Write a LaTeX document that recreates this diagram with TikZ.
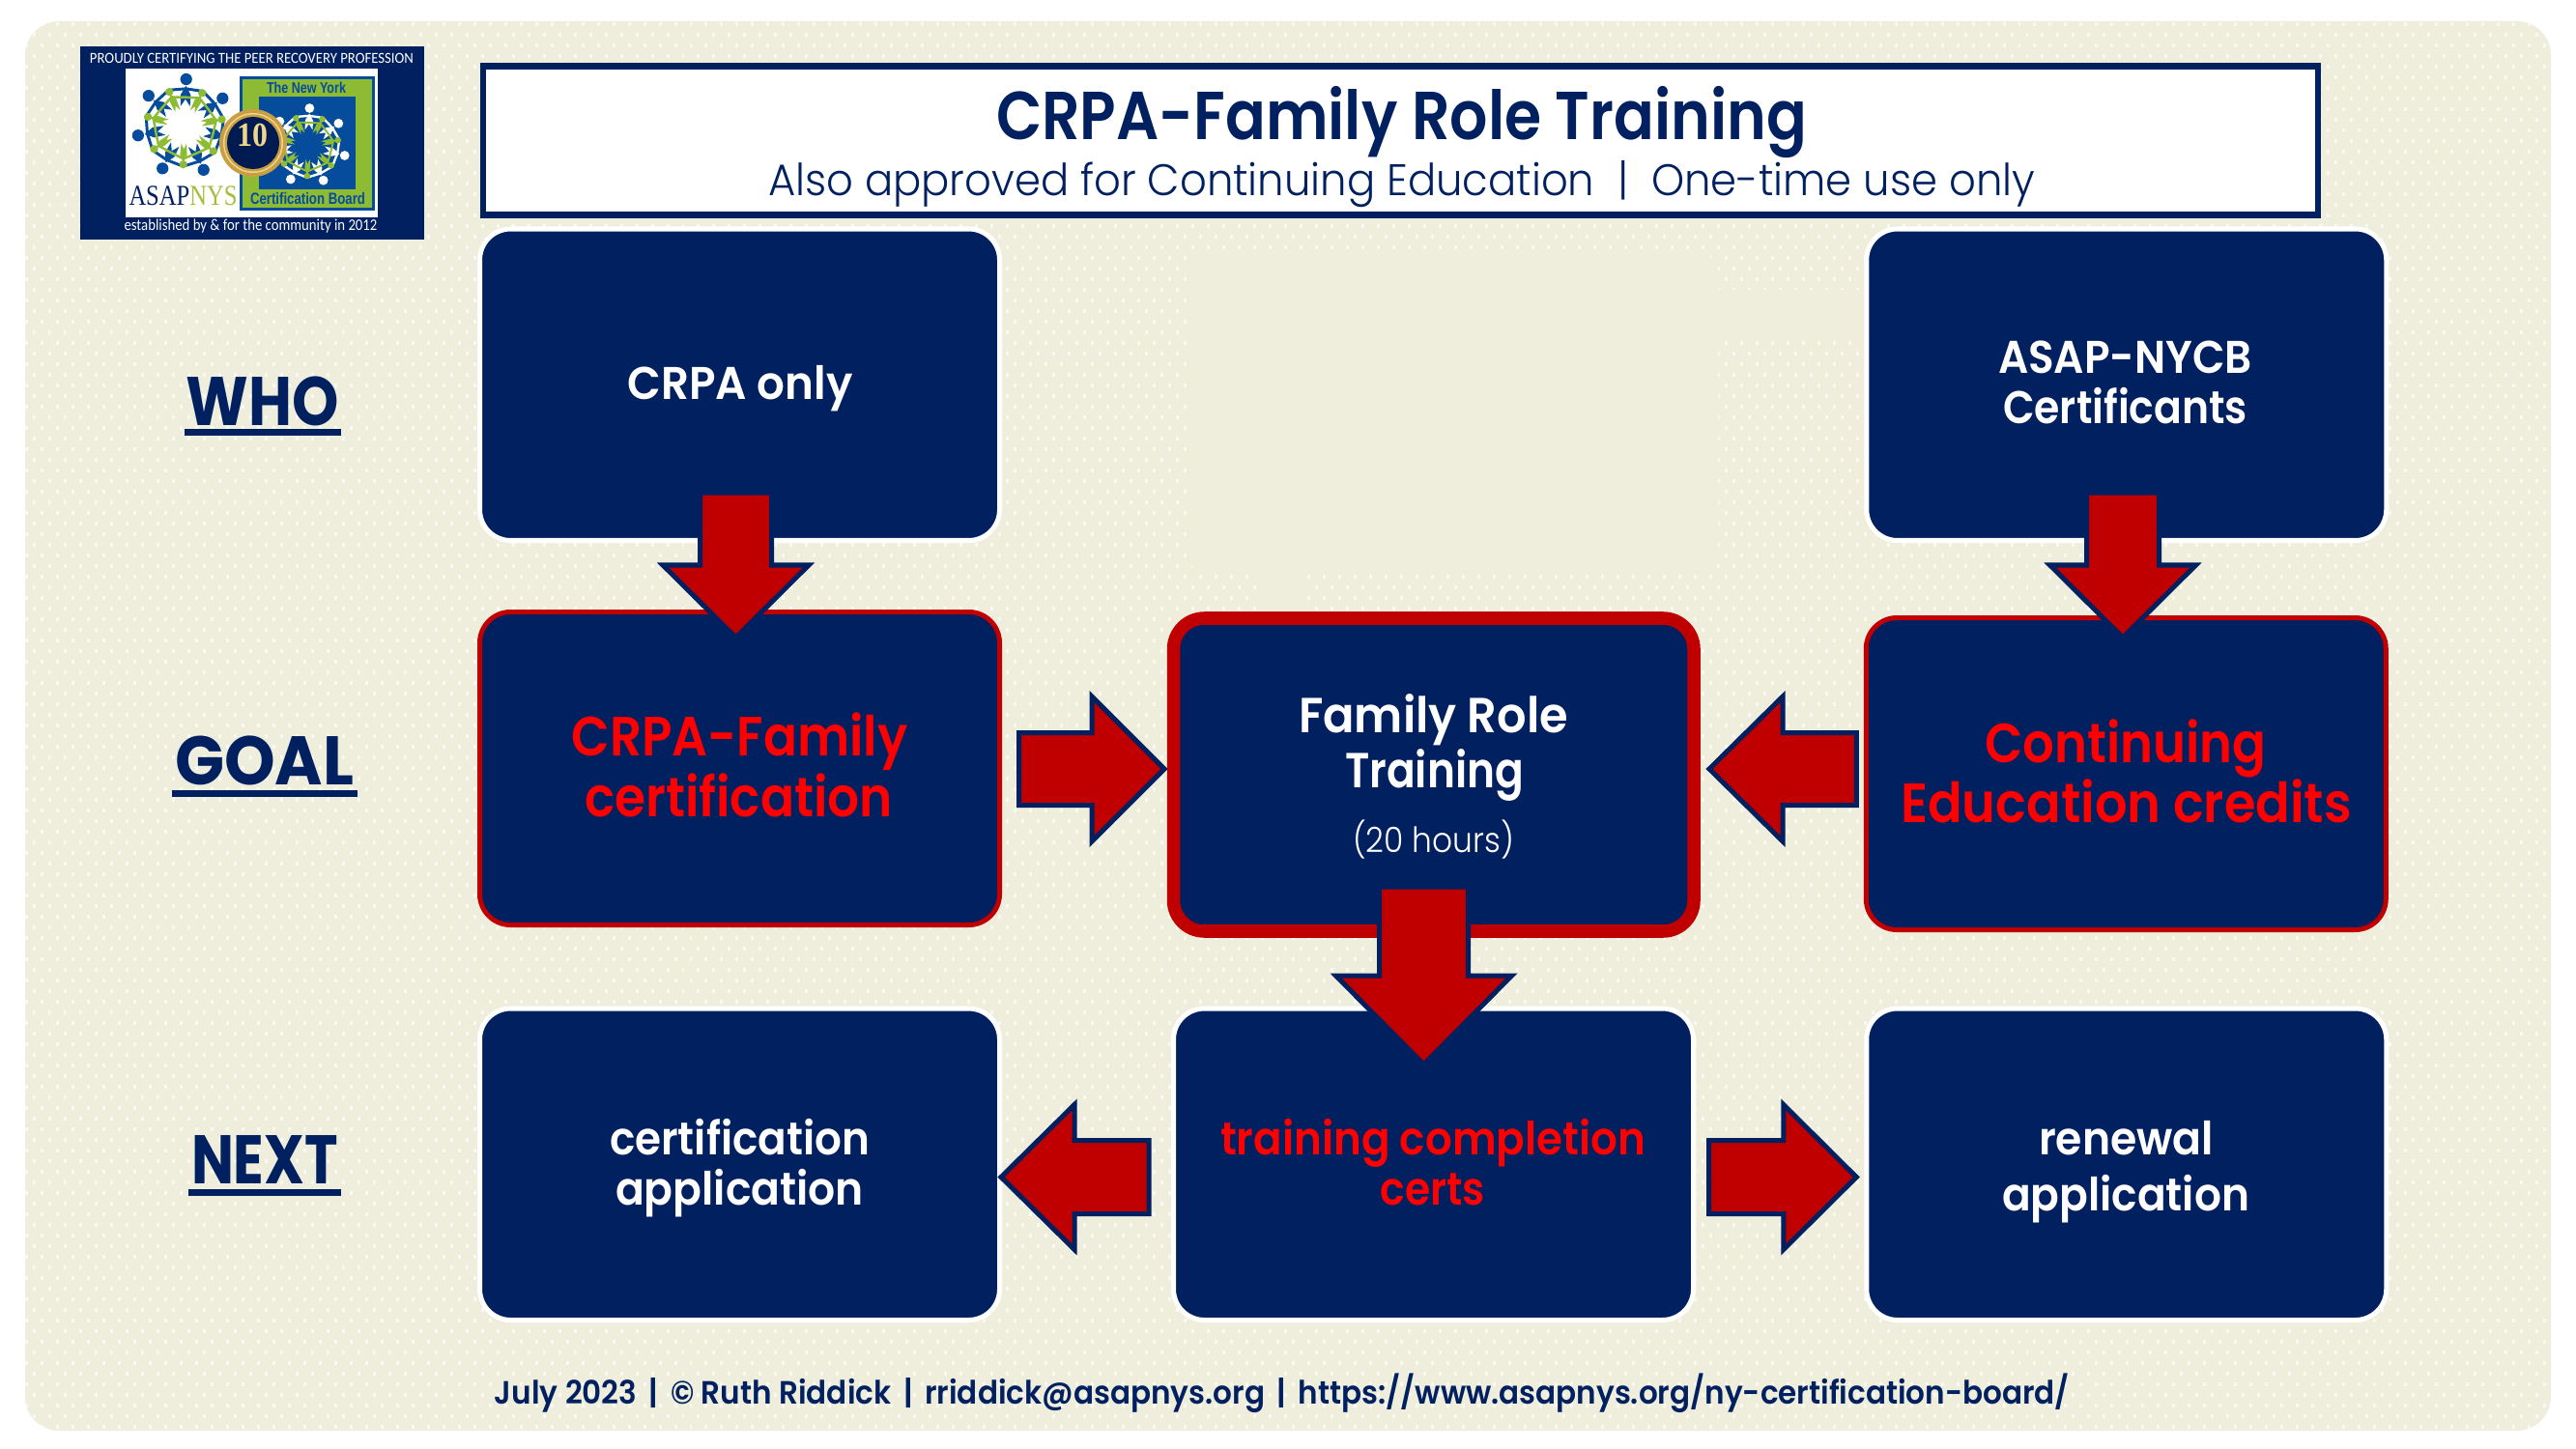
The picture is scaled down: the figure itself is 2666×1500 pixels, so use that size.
\documentclass[tikz,border=0pt]{standalone}
\usepackage{fontspec}
\usepackage{graphicx}
\usetikzlibrary{calc}
\setmainfont{Poppins}
\newfontfamily\fsb{Poppins SemiBold}
\newfontfamily\flt{Poppins Light}
\newfontfamily\fbf{Poppins Bold}
\newfontfamily\fcal{Carlito}
\newfontfamily\fser{Liberation Serif}
\newfontfamily\fsan{Liberation Sans}
\definecolor{bgc}{HTML}{EFEEDD}
\definecolor{navy}{HTML}{002060}
\definecolor{darkred}{HTML}{C00000}
\definecolor{brightred}{HTML}{FF0000}
\definecolor{lgreen}{HTML}{8DBB34}
\definecolor{lblue}{HTML}{064C9C}
\definecolor{ngreen}{HTML}{A6BD3A}
\definecolor{gold}{HTML}{C99F45}
\definecolor{goldl}{HTML}{F0D58A}
\newlength\pxu
\setlength\pxu{0.02cm}
\newcommand{\tw}[2]{\resizebox{#1\pxu}{\height}{#2}}
% one line of text placed exactly: offset from the centre of its node, width
\newcommand{\tline}[4]{\raisebox{#2\pxu}[0pt][0pt]{\hbox to 0pt{\hss\kern#1\pxu\kern#1\pxu\tw{#3}{#4}\hss}}}
\newcommand{\fs}[1]{\fontsize{#1}{#1}\selectfont}
\newcommand{\ulabel}[4]{\tline{0}{0}{#2}{#1}\raisebox{#3\pxu}[0pt][0pt]{\hbox to 0pt{\hss\rule{#4\pxu}{7\pxu}\hss}}}
\newcommand{\blockarrow}[5]{%
  \coordinate (S) at #1; \coordinate (T) at #2;
  \coordinate (N) at ($(T)!#5*0.02cm!(S)$);
  \draw[blockar] ($(S)!#3*0.02cm!90:(T)$) -- ($(N)!#3*0.02cm!90:(T)$) -- ($(N)!#4*0.02cm!90:(T)$)
    -- (T) -- ($(N)!#4*0.02cm!-90:(T)$) -- ($(N)!#3*0.02cm!-90:(T)$) -- ($(S)!#3*0.02cm!-90:(T)$) -- cycle;}
\newcommand{\wreath}[5]{% cx cy R body green
  \begin{scope}[shift={(#1,#2)}]
  \foreach \a in {0,...,6}{
    \pgfmathsetmacro{\th}{-88+\a*51.43}
    \pgfmathsetmacro{\tl}{\th-25.7}
    \pgfmathsetmacro{\tr}{\th+25.7}
    \fill[#4] (\th:#3) circle ({0.125*#3});
    \draw[#4,line width=#3*0.06*0.02cm,line cap=round] (\tl:0.84*#3) -- (\th:0.8*#3) -- (\tr:0.84*#3);
    \fill[#4] (\th:0.86*#3) -- (\th-9:0.68*#3) -- (\th-13:0.44*#3) -- (\th:0.58*#3) -- (\th+13:0.44*#3) -- (\th+9:0.68*#3) -- cycle;
  }
  \foreach \a in {0,...,6}{
    \pgfmathsetmacro{\ph}{-88+25.7+\a*51.43}
    \fill[#5] (\ph:0.8*#3) circle ({0.085*#3});
    \draw[#5,line width=#3*0.05*0.02cm,line cap=round] (\ph-25.7:0.62*#3) -- (\ph:0.68*#3) -- (\ph+25.7:0.62*#3);
    \fill[#5] (\ph:0.76*#3) -- (\ph-7:0.6*#3) -- (\ph-9:0.36*#3) -- (\ph:0.48*#3) -- (\ph+9:0.36*#3) -- (\ph+7:0.6*#3) -- cycle;
  }
  \end{scope}}
\tikzset{
  stepbox/.style={rectangle,rounded corners=32*0.02cm,fill=navy,inner sep=0pt,outer sep=0pt,minimum width=#1*0.02cm},
  whitebox/.style={stepbox=538,draw=white,line width=2.85pt,minimum height=322.5*0.02cm,text=white,font=\fsb\fs{27}},
  redbox/.style={stepbox=538,draw=darkred,line width=2.85pt,minimum height=324*0.02cm,text=brightred,font=\fsb\fs{32.5}},
  corebox/.style={stepbox=538.5,draw=darkred,line width=7.7pt,minimum height=324*0.02cm,text=white,font=\fsb\fs{29}},
  blockar/.style={fill=darkred,draw=navy,line width=2.85pt,miter limit=10},
  sidelabel/.style={anchor=base,inner sep=0pt,outer sep=0pt,text=navy,font=\fbf\fs{40.5}},
  plain/.style={anchor=base,inner sep=0pt,outer sep=0pt},
}
\begin{document}
\begin{tikzpicture}[x=0.02cm,y=-0.02cm]
\path[use as bounding box,fill=white] (0,0) rectangle (2666,1500);
% background panel with dot texture
\fill[bgc,rounded corners=35*0.02cm] (26,22) rectangle (2640,1481);
\begin{scope}
  \clip[rounded corners=35*0.02cm] (26,22) rectangle (2640,1481);
  \foreach \yy in {25,47,...,1481}{
    \draw[white,opacity=.65,line width=2pt,dash pattern=on 1.7pt off 7.4pt] (26,\yy) -- (2640,\yy);}
  \foreach \yy in {36,58,...,1481}{
    \draw[white,opacity=.65,line width=2pt,dash pattern=on 1.7pt off 7.4pt,dash phase=4.55pt] (26,\yy) -- (2640,\yy);}
\end{scope}
\fill[bgc,rounded corners=18*0.02cm] (1230,263) rectangle (1778,593);
\fill[bgc] (1304,585) rectangle (1352,632);
\fill[bgc] (1770,300) rectangle (1932,350);

% logo
\fill[navy] (83,48) rectangle (439,248);
\fill[white] (130,71) rectangle (391,225);
\fill[lblue] (248,79) rectangle (388,218);
\fill[lgreen] (251,82) rectangle (385,215);
\fill[lblue] (268,100) rectangle (368,196);
\wreath{191}{131}{49}{lblue}{lgreen}
\wreath{319}{151}{39}{white}{lgreen}
\fill[gold] (262,148) circle (35);
\fill[goldl] (262,148) circle (31);
\fill[gold] (262,148) circle (29.5);
\fill[navy!85!black] (262,148) circle (27);
\node[plain,text=white,font=\fcal\fs{9}] (lg1) at (260.5,66) {\tw{335}{PROUDLY CERTIFYING THE PEER RECOVERY PROFESSION}};
\node[plain,text=white,font=\fcal\fs{9.5}] (lg2) at (259.5,239) {\tw{262}{established by \& for the community in 2012}};
\node[plain,font=\fser\fs{17}] (lg3) at (189.5,212.5) {\tw{112}{\textcolor{navy}{ASAP}\textcolor{ngreen}{NYS}}};
\node[plain,text=lblue,font=\fsan\bfseries\fs{9}] (lg4) at (317,97) {\tw{82}{The New York}};
\node[plain,text=lblue,font=\fsan\bfseries\fs{9.5}] (lg5) at (318.5,212) {\tw{119}{Certification Board}};
\node[plain,text=goldl,font=\fser\bfseries\fs{20}] (lg6) at (261,152) {\tw{32}{10}};

% title
\node[rectangle,draw=navy,line width=3.7pt,fill=white,minimum width=1899*0.02cm,minimum height=154*0.02cm,inner sep=0pt,outer sep=0pt,text=navy] (title) at (1449.5,145.5)
 {\fsb\fs{40}\tline{1}{0.5}{839}{CRPA-Family Role Training}\flt\fs{26}\tline{1}{-57.5}{1311}{Also approved for Continuing Education\ \ |\ \ One-time use only}};

% side labels
\node[sidelabel] (who) at (272,440) {\ulabel{WHO}{158}{-11}{162}};
\node[sidelabel] (goal) at (273.5,812) {\ulabel{GOAL}{185}{-13}{192}};
\node[sidelabel] (next) at (274,1225) {\ulabel{NEXT}{152}{-13}{158}};

% boxes
\node[whitebox] (b1) at (765.5,398.25) {\tline{.5}{-14.75}{233}{CRPA only}};
\node[redbox] (b2) at (765.5,795.5) {\tline{0}{13.5}{348}{CRPA-Family}\tline{-1}{-49.5}{319}{certification}};
\node[corebox] (b3) at (1483.75,802) {\tline{-.25}{44}{279}{Family Role}\tline{.75}{-13}{185}{Training}\flt\fs{20.5}\tline{-.25}{-80}{167}{(20 hours)}};
\node[whitebox] (b4) at (2200.75,398.25) {\tline{-1.25}{11.25}{263}{ASAP-NYCB}\tline{-1.25}{-40}{253}{Certificants}};
\node[redbox,minimum height=323*0.02cm] (b5) at (2200.25,801) {\tline{-.5}{12}{291.5}{Continuing}\tline{.25}{-50.5}{467}{Education credits}};
\node[whitebox] (b6) at (765.5,1205.25) {\tline{0}{10.25}{269}{certification}\tline{0}{-41.75}{257}{application}};
\node[whitebox,text=brightred] (b7) at (1483.5,1205.25) {\tline{-.5}{10.25}{440}{training completion}\tline{-.7}{-41.75}{108.4}{certs}};
\node[whitebox] (b8) at (2200.75,1205.25) {\tline{-.25}{10.25}{181}{renewal}\tline{-.75}{-47.75}{256}{application}};

% block arrows
\blockarrow{($(b1.south)+(-4,-49.5)$)}{($(b2.north)+(-4,26.5)$)}{37}{75.5}{75}
\blockarrow{($(b2.east)+(20,.5)$)}{($(b3.west)+(-9.5,-6)$)}{37.5}{75}{75}
\blockarrow{($(b5.west)+(-10,-5)$)}{($(b3.east)+(16,-6)$)}{37.5}{75}{76}
\blockarrow{($(b4.south)+(-3.75,-49.5)$)}{($(b5.north)+(-3.25,20.5)$)}{37.5}{75.5}{75}
\blockarrow{($(b3.south)+(-10.25,-46)$)}{($(b7.north)+(-10,58)$)}{46}{91}{92}
\blockarrow{($(b7.west)+(-25.5,13.25)$)}{($(b6.east)+(1.5,13.25)$)}{38}{75}{76}
\blockarrow{($(b7.east)+(16,13.25)$)}{($(b8.west)+(-10.5,13.25)$)}{38}{75}{75.5}

% footer
\node[plain,text=navy,font=\fsb\fs{19}] (foot) at (1327,1453) {\tw{1630}{July 2023\ \,|\ \,© Ruth Riddick\ \,|\ \,rriddick@asapnys.org\ \,|\ \,https://www.asapnys.org/ny-certification-board/}};
\end{tikzpicture}
\end{document}
